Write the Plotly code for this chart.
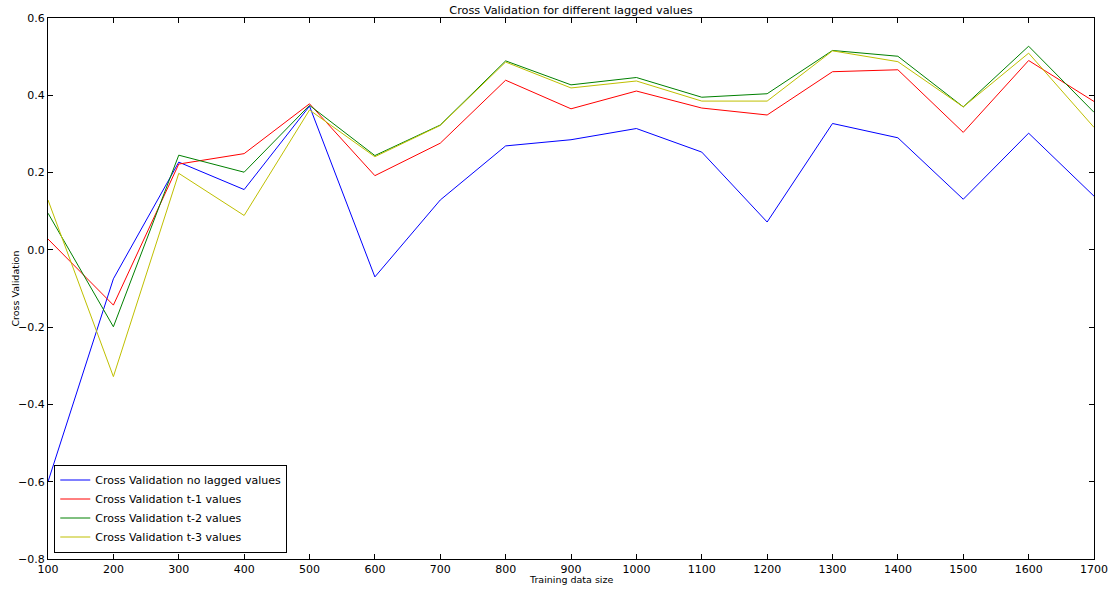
import plotly.graph_objects as go

sizes = [100, 200, 300, 400, 500, 600, 700, 800, 900, 1000, 1100, 1200, 1300, 1400, 1500, 1600, 1700]
cv_no_lag = [-0.600, -0.075, 0.227, 0.156, 0.372, -0.070, 0.129, 0.269, 0.285, 0.314, 0.253, 0.072, 0.327, 0.290, 0.131, 0.302, 0.139]
cv_t1 = [0.028, -0.143, 0.222, 0.249, 0.378, 0.192, 0.276, 0.439, 0.365, 0.411, 0.367, 0.349, 0.461, 0.466, 0.304, 0.490, 0.384]
cv_t2 = [0.095, -0.199, 0.245, 0.201, 0.374, 0.244, 0.323, 0.489, 0.427, 0.446, 0.395, 0.404, 0.516, 0.501, 0.370, 0.527, 0.356]
cv_t3 = [0.129, -0.328, 0.198, 0.089, 0.362, 0.241, 0.322, 0.486, 0.419, 0.437, 0.385, 0.385, 0.515, 0.487, 0.370, 0.509, 0.317]

series = [
    ("Cross Validation no lagged values", cv_no_lag, "#0000ff"),
    ("Cross Validation t-1 values", cv_t1, "#ff0000"),
    ("Cross Validation t-2 values", cv_t2, "#008000"),
    ("Cross Validation t-3 values", cv_t3, "#bfbf00"),
]

fig = go.Figure()
for name, vals, color in series:
    fig.add_trace(go.Scatter(x=sizes, y=vals, mode="lines", name=name,
                             line=dict(color=color, width=1)))

axis_common = dict(showline=True, linecolor="#000000", linewidth=1, mirror="ticks",
                   ticks="inside", ticklen=5, tickcolor="#000000", showgrid=False,
                   zeroline=False, automargin=False,
                   tickfont=dict(size=11, color="#000000"))

fig.update_layout(
    width=1114, height=591,
    margin=dict(l=48, r=20, t=18, b=32),
    paper_bgcolor="white", plot_bgcolor="white",
    font=dict(family="DejaVu Sans", color="#000000"),
    title=dict(text="Cross Validation for different lagged values", xref="paper", x=0.5,
               xanchor="center", y=0.983, yanchor="middle", font=dict(size=11.3),
               automargin=False),
    xaxis=dict(range=[100, 1700], dtick=100, tick0=100, **axis_common),
    yaxis=dict(range=[-0.8, 0.6], dtick=0.2, tickformat=".1f", **axis_common),
    legend=dict(x=0.006, y=0.012, xanchor="left", yanchor="bottom",
                bordercolor="#000000", borderwidth=1, bgcolor="white",
                font=dict(size=11), tracegroupgap=0),
    showlegend=True,
    annotations=[
        dict(text="Training data size", xref="paper", yref="paper", x=0.5, y=-0.0388,
             xanchor="center", yanchor="middle", showarrow=False, font=dict(size=9.5)),
        dict(text="Cross Validation", xref="paper", yref="paper", x=-0.0315, y=0.5,
             xanchor="center", yanchor="middle", textangle=-90, showarrow=False,
             font=dict(size=9.5)),
    ],
)

fig.write_html("out.html", config={"displayModeBar": False},
               post_script="document.body.style.margin='0';document.body.style.overflow='hidden';")
